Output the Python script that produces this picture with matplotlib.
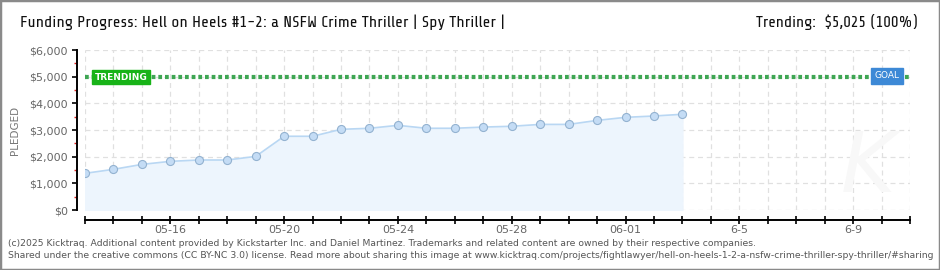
import matplotlib
matplotlib.use("Agg")
import matplotlib.pyplot as plt
import matplotlib.dates as mdates
from matplotlib.patches import Rectangle
import numpy as np

# data
dates = ["2025-05-13", "2025-05-14", "2025-05-15", "2025-05-16", "2025-05-17",
         "2025-05-18", "2025-05-19", "2025-05-20", "2025-05-21", "2025-05-22",
         "2025-05-23", "2025-05-24", "2025-05-25", "2025-05-26", "2025-05-27",
         "2025-05-28", "2025-05-29", "2025-05-30", "2025-05-31", "2025-06-01",
         "2025-06-02", "2025-06-03"]
pledged = [1375, 1525, 1710, 1825, 1875, 1875, 2010, 2765, 2765, 3025,
           3065, 3175, 3065, 3065, 3110, 3140, 3210, 3210, 3360, 3475,
           3525, 3590]
goal = 5000
x_start, x_end = "2025-05-13", "2025-06-11"
label_dates = ["2025-05-16", "2025-05-20", "2025-05-24", "2025-05-28",
               "2025-06-01", "2025-06-05", "2025-06-09"]
label_texts = ["05-16", "05-20", "05-24", "05-28", "06-01", "6-5", "6-9"]
y_ticks = [0, 1000, 2000, 3000, 4000, 5000, 6000]
y_labels = ["$0", "$1,000", "$2,000", "$3,000", "$4,000", "$5,000", "$6,000"]

title = "Funding Progress: Hell on Heels #1-2: a NSFW Crime Thriller | Spy Thriller |"
trending = "Trending:  \\$5,025 (100%)"
footer1 = ("(c)2025 Kicktraq. Additional content provided by Kickstarter Inc. and Daniel Martinez. "
           "Trademarks and related content are owned by their respective companies.")
footer2 = ("Shared under the creative commons (CC BY-NC 3.0) license. Read more about sharing this image at "
           "www.kicktraq.com/projects/fightlawyer/hell-on-heels-1-2-a-nsfw-crime-thriller-spy-thriller/#sharing")

W, H = 940, 270
px = 72 / 100  # points per pixel at dpi 100
head_font = ["Share Tech", "DejaVu Sans"]
x = np.array(dates, dtype="datetime64[D]").astype("O")
xs = np.datetime64(x_start).astype("O")
xe = np.datetime64(x_end).astype("O")

plt.rcParams["font.family"] = ["DejaVu Sans"]
fig = plt.figure(figsize=(W / 100, H / 100), dpi=100)
fig.patch.set_facecolor("white")
fig.patches.append(Rectangle((0, 0), 1, 1, transform=fig.transFigure, fill=False,
                             edgecolor="#8a8a8a", linewidth=2.5))

ax = fig.add_axes([85 / W, (H - 210) / H, 825 / W, 160 / H])
ax.set_xlim(xs, xe)
ax.set_ylim(0, 6000)

# ticks and grid
ax.set_xticks([np.datetime64(d).astype("O") for d in label_dates])
ax.set_xticklabels(label_texts)
ax.xaxis.set_minor_locator(mdates.DayLocator())
ax.set_yticks(y_ticks)
ax.set_yticklabels(y_labels)
ax.set_yticks([500, 1500, 2500, 3500, 4500, 5500], minor=True)
ax.grid(True, which="both", axis="x", color="#e0e0e0", linestyle=(0, (4, 3)), linewidth=0.9)
ax.grid(True, which="major", axis="y", color="#e0e0e0", linestyle=(0, (4, 3)), linewidth=0.9)
ax.set_axisbelow(True)

# series
ax.fill_between(x, 0, pledged, color="#edf5fd", zorder=2)
ax.plot(x, pledged, color="#b9d7f3", linewidth=1.2, zorder=3)
ax.plot(x, pledged, linestyle="none", marker="o", markersize=5.8,
        markerfacecolor="#c4dcf5", markeredgecolor="#93b2d0", markeredgewidth=0.8, zorder=4)

# goal line
ax.axhline(goal, color="#3ea653", linewidth=3, linestyle=(0, (0.9, 0.7)), zorder=5)

# spines
for s in ["top", "right"]:
    ax.spines[s].set_visible(False)
ax.spines["left"].set_position(("outward", 8 * px))
ax.spines["left"].set_bounds(0, 6000)
ax.spines["bottom"].set_position(("outward", 10 * px))
ax.spines["left"].set_linewidth(1.4)
ax.spines["bottom"].set_linewidth(1.4)

ax.tick_params(axis="y", which="major", length=5 * px, width=1.2, color="black",
               labelsize=8, labelcolor="#666666", pad=3)
ax.tick_params(axis="y", which="minor", length=3 * px, width=1, color="#e0231f")
ax.tick_params(axis="x", which="both", direction="inout", length=8 * px, width=1.2,
               color="black", labelsize=8, labelcolor="#666666", pad=1)

ax.set_ylabel("PLEDGED", fontsize=7.5, color="#777777")
ax.yaxis.set_label_coords((20 - 85) / 825, 0.5)

# labels on goal line
fig.text(121 / W, 1 - 77 / H, "TRENDING", fontsize=6.5, color="white", fontweight="bold",
         ha="center", va="center",
         bbox=dict(boxstyle="square,pad=0.25", facecolor="#18b318", edgecolor="#18b318"), zorder=10)
fig.text(887 / W, 1 - 76 / H, "GOAL", fontsize=6.5, color="white",
         ha="center", va="center",
         bbox=dict(boxstyle="square,pad=0.35", facecolor="#3d89d6", edgecolor="#3d89d6"), zorder=10)

# watermark
fig.text(868 / W, 1 - 168 / H, "K", fontsize=60, color="#f8f8f8", style="italic",
         ha="center", va="center", zorder=0)

# header
t_title = fig.text(20 / W, 1 - 22 / H, title, fontsize=13, color="#111111", va="center",
                   ha="left", family=head_font)
t_trend = fig.text(918 / W, 1 - 22 / H, trending, fontsize=13, color="#111111",
                   va="center", ha="right", family=head_font)

# footer
fig.text(8 / W, 1 - 243 / H, footer1, fontsize=6.65, color="#555555", va="center", ha="left")
fig.text(8 / W, 1 - 256 / H, footer2, fontsize=6.65, color="#555555", va="center", ha="left")

# fit header widths to the reference (title ~486 px, trending ~162 px)
fig.canvas.draw()
r = fig.canvas.get_renderer()
for t, target in [(t_title, 486), (t_trend, 162)]:
    w = t.get_window_extent(r).width
    t.set_fontsize(min(15, t.get_fontsize() * target / w))

fig.savefig("out.png", dpi=100, facecolor="white")
